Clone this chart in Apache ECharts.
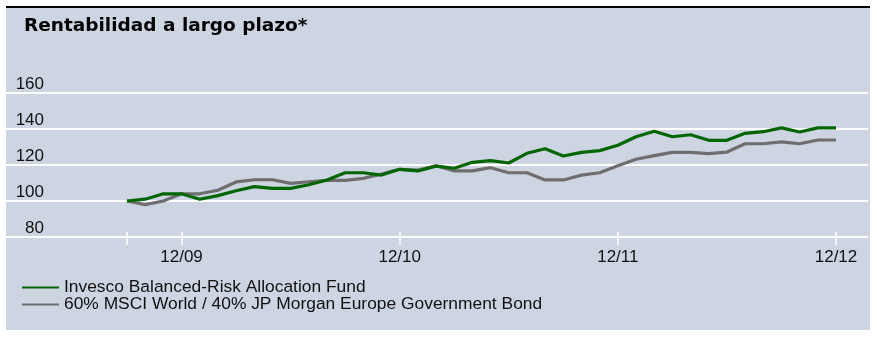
<!DOCTYPE html>
<html>
<head>
<meta charset="utf-8">
<script src="https://cdn.jsdelivr.net/npm/echarts@6/dist/echarts.min.js"></script>
<style>
html,body{margin:0;padding:0;background:#fff;}
#c{width:877px;height:340px;}
</style>
</head>
<body>
<div id="c"></div>
<script>
// Monthly points from 09/09 to 12/12
const months = ['09/09','10/09','11/09','12/09','01/10','02/10','03/10','04/10','05/10','06/10','07/10','08/10','09/10','10/10','11/10','12/10',
  '01/11','02/11','03/11','04/11','05/11','06/11','07/11','08/11','09/11','10/11','11/11','12/11',
  '01/12','02/12','03/12','04/12','05/12','06/12','07/12','08/12','09/12','10/12','11/12','12/12'];
const fundValues = [100,101,104,104,101,103,105.7,108,107,107,109,111.7,115.7,115.7,114.4,117.6,
  116.7,119.4,118.2,121.5,122.4,121.1,126.5,129,125,127,128,131,
  135.7,138.7,135.7,136.8,133.7,133.7,137.6,138.5,140.6,138.3,140.6,140.6];
const benchValues = [100,98,100,104,104,106,110.6,111.8,111.8,109.8,110.7,111.5,111.5,112.6,115,117.6,
  117.2,119.6,116.7,116.7,118.5,115.7,115.7,111.7,111.7,114.4,115.7,119.6,
  123.2,125.2,127,127,126.3,127.2,131.8,131.8,132.8,131.8,133.9,133.9];
const labeledMonths = ['12/09','12/10','12/11','12/12'];
const yTicks = {min: 80, max: 160, step: 20};
const titleText = 'Rentabilidad a largo plazo*';
const seriesNames = ['Invesco Balanced-Risk Allocation Fund', '60% MSCI World / 40% JP Morgan Europe Government Bond'];

const tickIdx = [0].concat(labeledMonths.map(m => months.indexOf(m)));
const chart = echarts.init(document.getElementById('c'), null, {renderer: 'canvas'});
const font = '"Liberation Sans", Arial, sans-serif';
chart.setOption({
  animation: false,
  backgroundColor: '#ffffff',
  graphic: [
    {type: 'rect', z: -10, shape: {x: 6, y: 7, width: 864, height: 323}, style: {fill: '#cdd5e3'}},
    {type: 'rect', z: -9, shape: {x: 6, y: 6, width: 864, height: 2}, style: {fill: '#000000'}}
  ],
  title: {
    text: titleText, left: 24, top: 17, padding: 0,
    textStyle: {fontFamily: '"DejaVu Sans", Verdana, sans-serif', fontWeight: 'bold', fontSize: 18.5, color: '#000'}
  },
  legend: {
    orient: 'vertical', left: 22, top: 279, padding: 0, itemGap: 0, itemWidth: 37, itemHeight: 2, icon: 'rect',
    textStyle: {fontFamily: font, fontSize: 17.4, color: '#111', lineHeight: 17},
    data: seriesNames
  },
  grid: [
    {left: 6, right: 9, top: 93, height: 144},
    {left: 127, right: 41, top: 93, height: 144}
  ],
  xAxis: [
    {gridIndex: 0, type: 'value', show: false, min: 0, max: 1},
    {gridIndex: 1, type: 'category', data: months, boundaryGap: false, position: 'bottom',
      axisLine: {show: false},
      axisTick: {show: true, length: 8, interval: (i) => tickIdx.includes(i), lineStyle: {color: '#fff', width: 1.5}},
      axisLabel: {interval: (i, v) => labeledMonths.includes(v), margin: 12, fontFamily: font, fontSize: 17, color: '#111'},
      splitLine: {show: false}},
    {gridIndex: 1, type: 'category', data: months, boundaryGap: false, position: 'bottom', offset: 0,
      axisLine: {show: false},
      axisTick: {show: true, inside: true, length: 5, interval: (i) => tickIdx.includes(i), lineStyle: {color: '#fff', width: 1.5}},
      axisLabel: {show: false}, splitLine: {show: false}}
  ],
  yAxis: [
    {gridIndex: 0, type: 'value', min: yTicks.min, max: yTicks.max, interval: yTicks.step,
      axisLine: {show: false}, axisTick: {show: false},
      splitLine: {show: true, lineStyle: {color: '#ffffff', width: 2}},
      axisLabel: {inside: true, margin: 38, align: 'right', verticalAlign: 'bottom', lineHeight: 17, padding: [0, 0, 0, 0],
        fontFamily: font, fontSize: 17, color: '#111'}},
    {gridIndex: 1, type: 'value', min: yTicks.min, max: yTicks.max, interval: yTicks.step, show: false, splitLine: {show: false}}
  ],
  series: [
    {name: seriesNames[1], type: 'line', xAxisIndex: 1, yAxisIndex: 1, data: benchValues, symbol: 'none',
      lineStyle: {color: '#6e6e6e', width: 3.2}, itemStyle: {color: '#6e6e6e'}, z: 3},
    {name: seriesNames[0], type: 'line', xAxisIndex: 1, yAxisIndex: 1, data: fundValues, symbol: 'none',
      lineStyle: {color: '#036603', width: 3.2}, itemStyle: {color: '#036603'}, z: 4}
  ]
});
</script>
</body>
</html>
